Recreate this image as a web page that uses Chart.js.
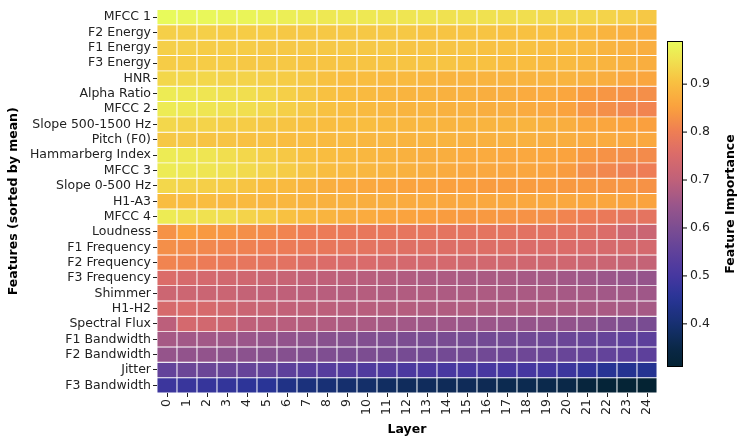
<!DOCTYPE html>
<html>
<head>
<meta charset="utf-8">
<script src="https://cdn.jsdelivr.net/npm/chart.js@4.4.1/dist/chart.umd.min.js"></script>
<style>
html, body { margin: 0; padding: 0; background: #fff; }
</style>
</head>
<body>
<canvas id="myChart" width="741" height="441"></canvas>
<script>
var layers = ['0','1','2','3','4','5','6','7','8','9','10','11','12','13','14','15','16','17','18','19','20','21','22','23','24'];
var features = ['MFCC 1','F2 Energy','F1 Energy','F3 Energy','HNR','Alpha Ratio','MFCC 2','Slope 500-1500 Hz','Pitch (F0)','Hammarberg Index','MFCC 3','Slope 0-500 Hz','H1-A3','MFCC 4','Loudness','F1 Frequency','F2 Frequency','F3 Frequency','Shimmer','H1-H2','Spectral Flux','F1 Bandwidth','F2 Bandwidth','Jitter','F3 Bandwidth'];

// importance per layer, one array per feature
var mfcc1 = [0.99,0.985,0.985,0.98,0.98,0.975,0.97,0.965,0.96,0.96,0.96,0.955,0.955,0.955,0.95,0.95,0.95,0.945,0.945,0.94,0.94,0.935,0.93,0.925,0.915];
var f2Energy = [0.925,0.925,0.925,0.92,0.92,0.92,0.915,0.915,0.915,0.915,0.915,0.915,0.915,0.91,0.91,0.91,0.91,0.905,0.905,0.905,0.9,0.895,0.885,0.88,0.875];
var f1Energy = [0.925,0.925,0.92,0.92,0.92,0.915,0.915,0.915,0.915,0.915,0.915,0.915,0.91,0.91,0.91,0.91,0.905,0.905,0.905,0.9,0.9,0.895,0.885,0.88,0.875];
var f3Energy = [0.92,0.92,0.92,0.92,0.915,0.915,0.915,0.91,0.91,0.91,0.91,0.91,0.91,0.91,0.91,0.905,0.905,0.9,0.9,0.895,0.895,0.89,0.885,0.88,0.875];
var hnr = [0.935,0.935,0.935,0.93,0.93,0.925,0.92,0.915,0.905,0.9,0.9,0.895,0.895,0.89,0.885,0.885,0.885,0.885,0.885,0.885,0.885,0.88,0.875,0.865,0.86];
var alphaRatio = [0.965,0.96,0.955,0.95,0.945,0.935,0.925,0.915,0.905,0.9,0.895,0.89,0.885,0.885,0.88,0.88,0.875,0.875,0.87,0.87,0.86,0.845,0.835,0.83,0.825];
var mfcc2 = [0.965,0.96,0.955,0.95,0.945,0.935,0.925,0.915,0.905,0.9,0.895,0.89,0.885,0.885,0.88,0.88,0.875,0.875,0.87,0.865,0.855,0.835,0.825,0.815,0.81];
var slope5001500 = [0.935,0.93,0.93,0.925,0.92,0.915,0.91,0.905,0.9,0.9,0.9,0.895,0.89,0.89,0.885,0.885,0.885,0.885,0.885,0.88,0.875,0.865,0.86,0.855,0.85];
var pitch = [0.915,0.915,0.91,0.91,0.905,0.905,0.9,0.9,0.895,0.895,0.89,0.89,0.885,0.885,0.885,0.88,0.88,0.88,0.88,0.875,0.875,0.87,0.87,0.865,0.865];
var hammarberg = [0.965,0.96,0.955,0.945,0.935,0.925,0.915,0.905,0.9,0.895,0.89,0.885,0.88,0.875,0.875,0.87,0.87,0.865,0.865,0.86,0.855,0.84,0.83,0.825,0.82];
var mfcc3 = [0.965,0.96,0.955,0.95,0.94,0.93,0.92,0.91,0.9,0.895,0.89,0.885,0.88,0.875,0.87,0.865,0.865,0.86,0.86,0.855,0.845,0.825,0.815,0.805,0.8];
var slope0500 = [0.935,0.93,0.925,0.92,0.91,0.9,0.895,0.885,0.875,0.87,0.865,0.86,0.855,0.855,0.85,0.85,0.845,0.845,0.845,0.845,0.84,0.84,0.835,0.835,0.83];
var h1a3 = [0.9,0.9,0.9,0.895,0.895,0.89,0.89,0.885,0.88,0.88,0.875,0.875,0.87,0.87,0.865,0.865,0.865,0.865,0.865,0.865,0.865,0.86,0.86,0.855,0.855];
var mfcc4 = [0.965,0.955,0.95,0.945,0.93,0.92,0.905,0.895,0.885,0.875,0.87,0.86,0.855,0.85,0.845,0.84,0.84,0.835,0.83,0.825,0.81,0.8,0.79,0.78,0.775];
var loudness = [0.83,0.85,0.84,0.835,0.825,0.82,0.81,0.8,0.795,0.79,0.785,0.785,0.78,0.78,0.775,0.775,0.775,0.775,0.77,0.77,0.77,0.765,0.755,0.73,0.72];
var f1Freq = [0.825,0.82,0.815,0.81,0.805,0.8,0.795,0.79,0.785,0.78,0.775,0.77,0.765,0.765,0.76,0.76,0.76,0.76,0.755,0.755,0.755,0.75,0.745,0.745,0.74];
var f2Freq = [0.81,0.805,0.795,0.79,0.78,0.775,0.77,0.76,0.755,0.75,0.75,0.745,0.74,0.74,0.74,0.735,0.735,0.735,0.73,0.73,0.73,0.725,0.72,0.715,0.71];
var f3Freq = [0.755,0.745,0.74,0.735,0.73,0.72,0.715,0.705,0.7,0.695,0.69,0.685,0.68,0.675,0.675,0.67,0.67,0.67,0.665,0.665,0.66,0.655,0.65,0.645,0.64];
var shimmer = [0.725,0.725,0.72,0.72,0.71,0.705,0.7,0.695,0.69,0.685,0.685,0.68,0.68,0.68,0.675,0.675,0.675,0.67,0.67,0.67,0.665,0.665,0.66,0.66,0.655];
var h1h2 = [0.745,0.75,0.745,0.735,0.72,0.715,0.705,0.7,0.695,0.69,0.69,0.685,0.685,0.68,0.68,0.68,0.675,0.675,0.675,0.675,0.67,0.67,0.67,0.665,0.665];
var spectralFlux = [0.695,0.74,0.735,0.725,0.7,0.695,0.69,0.685,0.68,0.675,0.67,0.665,0.66,0.655,0.655,0.65,0.65,0.645,0.64,0.64,0.635,0.63,0.615,0.605,0.595];
var f1Band = [0.665,0.66,0.66,0.655,0.65,0.64,0.635,0.63,0.62,0.615,0.61,0.605,0.6,0.595,0.595,0.59,0.585,0.585,0.58,0.575,0.57,0.565,0.56,0.55,0.545];
var f2Band = [0.64,0.635,0.635,0.63,0.625,0.62,0.615,0.61,0.605,0.6,0.6,0.595,0.59,0.585,0.585,0.585,0.58,0.575,0.575,0.57,0.565,0.56,0.555,0.55,0.545];
var jitter = [0.555,0.57,0.57,0.565,0.56,0.555,0.545,0.535,0.53,0.525,0.52,0.515,0.51,0.51,0.505,0.505,0.505,0.5,0.5,0.495,0.485,0.47,0.45,0.445,0.445];
var f3Band = [0.485,0.48,0.475,0.47,0.46,0.455,0.43,0.415,0.405,0.395,0.39,0.38,0.375,0.375,0.37,0.37,0.365,0.36,0.36,0.355,0.35,0.33,0.32,0.315,0.31];

var rows = [mfcc1, f2Energy, f1Energy, f3Energy, hnr, alphaRatio, mfcc2, slope5001500, pitch, hammarberg,
  mfcc3, slope0500, h1a3, mfcc4, loudness, f1Freq, f2Freq, f3Freq, shimmer, h1h2,
  spectralFlux, f1Band, f2Band, jitter, f3Band];

var cbTicks = [0.4, 0.5, 0.6, 0.7, 0.8, 0.9];

var vmin = Math.min.apply(null, rows.map(function (r) { return Math.min.apply(null, r); }));
var vmax = Math.max.apply(null, rows.map(function (r) { return Math.max.apply(null, r); }));

// thermal-like colour map
var stops = [
  [0.00, [4, 35, 51]],
  [0.06, [10, 40, 72]],
  [0.13, [22, 48, 112]],
  [0.21, [40, 52, 150]],
  [0.28, [70, 55, 160]],
  [0.35, [95, 65, 155]],
  [0.43, [125, 78, 145]],
  [0.50, [155, 86, 138]],
  [0.57, [190, 96, 122]],
  [0.65, [218, 107, 106]],
  [0.72, [238, 125, 85]],
  [0.79, [250, 158, 62]],
  [0.87, [249, 190, 64]],
  [0.94, [240, 225, 80]],
  [1.00, [232, 250, 91]]
];

function thermal(v) {
  var t = (v - vmin) / (vmax - vmin);
  t = Math.max(0, Math.min(1, t));
  for (var k = 1; k < stops.length; k++) {
    if (t <= stops[k][0]) {
      var a = stops[k - 1], b = stops[k];
      var f = (t - a[0]) / (b[0] - a[0]);
      var c = a[1].map(function (x, j) { return Math.round(x + (b[1][j] - x) * f); });
      return 'rgb(' + c.join(',') + ')';
    }
  }
  return 'rgb(232,250,91)';
}

var font = { family: 'DejaVu Sans', size: 12.5 };
var boldFont = { family: 'DejaVu Sans', size: 12.5, weight: 'bold' };

var datasets = features.map(function (name, i) {
  return {
    label: name,
    data: layers.map(function () { return 1; }),
    backgroundColor: rows[i].map(thermal),
    borderColor: '#ffffff',
    borderWidth: 0.8,
    borderSkipped: false,
    barPercentage: 1,
    categoryPercentage: 1,
    yAxisID: 'y'
  };
});

var colorBar = {
  id: 'colorBar',
  afterDraw: function (chart) {
    var c = chart.ctx;
    var left = 667, w = 16, top = 41, bottom = 367;
    var g = c.createLinearGradient(0, bottom, 0, top);
    for (var s = 0; s <= 40; s++) {
      g.addColorStop(s / 40, thermal(vmin + (vmax - vmin) * s / 40));
    }
    c.save();
    c.fillStyle = g;
    c.fillRect(left, top, w, bottom - top);
    c.strokeStyle = '#000';
    c.lineWidth = 1;
    c.strokeRect(left + 0.5, top + 0.5, w - 1, bottom - top - 1);
    c.font = '12.5px "DejaVu Sans"';
    c.fillStyle = '#222';
    c.textAlign = 'left';
    c.textBaseline = 'middle';
    cbTicks.forEach(function (v) {
      var y = bottom - (v - vmin) / (vmax - vmin) * (bottom - top);
      c.beginPath();
      c.moveTo(left + w, y);
      c.lineTo(left + w + 4, y);
      c.stroke();
      c.fillText(v.toFixed(1), left + w + 7, y);
    });
    c.translate(731, (top + bottom) / 2);
    c.rotate(-Math.PI / 2);
    c.textAlign = 'center';
    c.fillStyle = '#000';
    c.font = 'bold 12.5px "DejaVu Sans"';
    c.fillText('Feature Importance', 0, 0);
    c.restore();
  }
};

new Chart(document.getElementById('myChart'), {
  type: 'bar',
  data: { labels: layers, datasets: datasets },
  options: {
    responsive: false,
    animation: false,
    layout: { padding: { top: 6, right: 84, bottom: 0, left: 0 } },
    plugins: { legend: { display: false }, tooltip: { enabled: false } },
    scales: {
      x: {
        stacked: true,
        offset: true,
        grid: { drawOnChartArea: false, offset: false, tickLength: 4, color: '#222' },
        border: { display: false },
        ticks: { autoSkip: false, maxRotation: 90, minRotation: 90, font: font, color: '#222', padding: 2 },
        title: { display: true, text: 'Layer', font: boldFont, color: '#000', padding: { top: 2, bottom: 4 } },
        afterFit: function (s) { s.height = 48; }
      },
      y: {
        stacked: true,
        display: false,
        reverse: true,
        min: 0,
        max: features.length
      },
      yf: {
        type: 'category',
        labels: features,
        position: 'left',
        offset: true,
        grid: { drawOnChartArea: false, offset: false, tickLength: 4, color: '#222' },
        border: { display: false },
        ticks: { autoSkip: false, font: font, color: '#222', padding: 2 },
        title: { display: true, text: 'Features (sorted by mean)', font: boldFont, color: '#000', padding: { top: 6, bottom: 2 } },
        afterFit: function (s) { s.width = 157; }
      }
    }
  },
  plugins: [colorBar]
});
</script>
</body>
</html>
